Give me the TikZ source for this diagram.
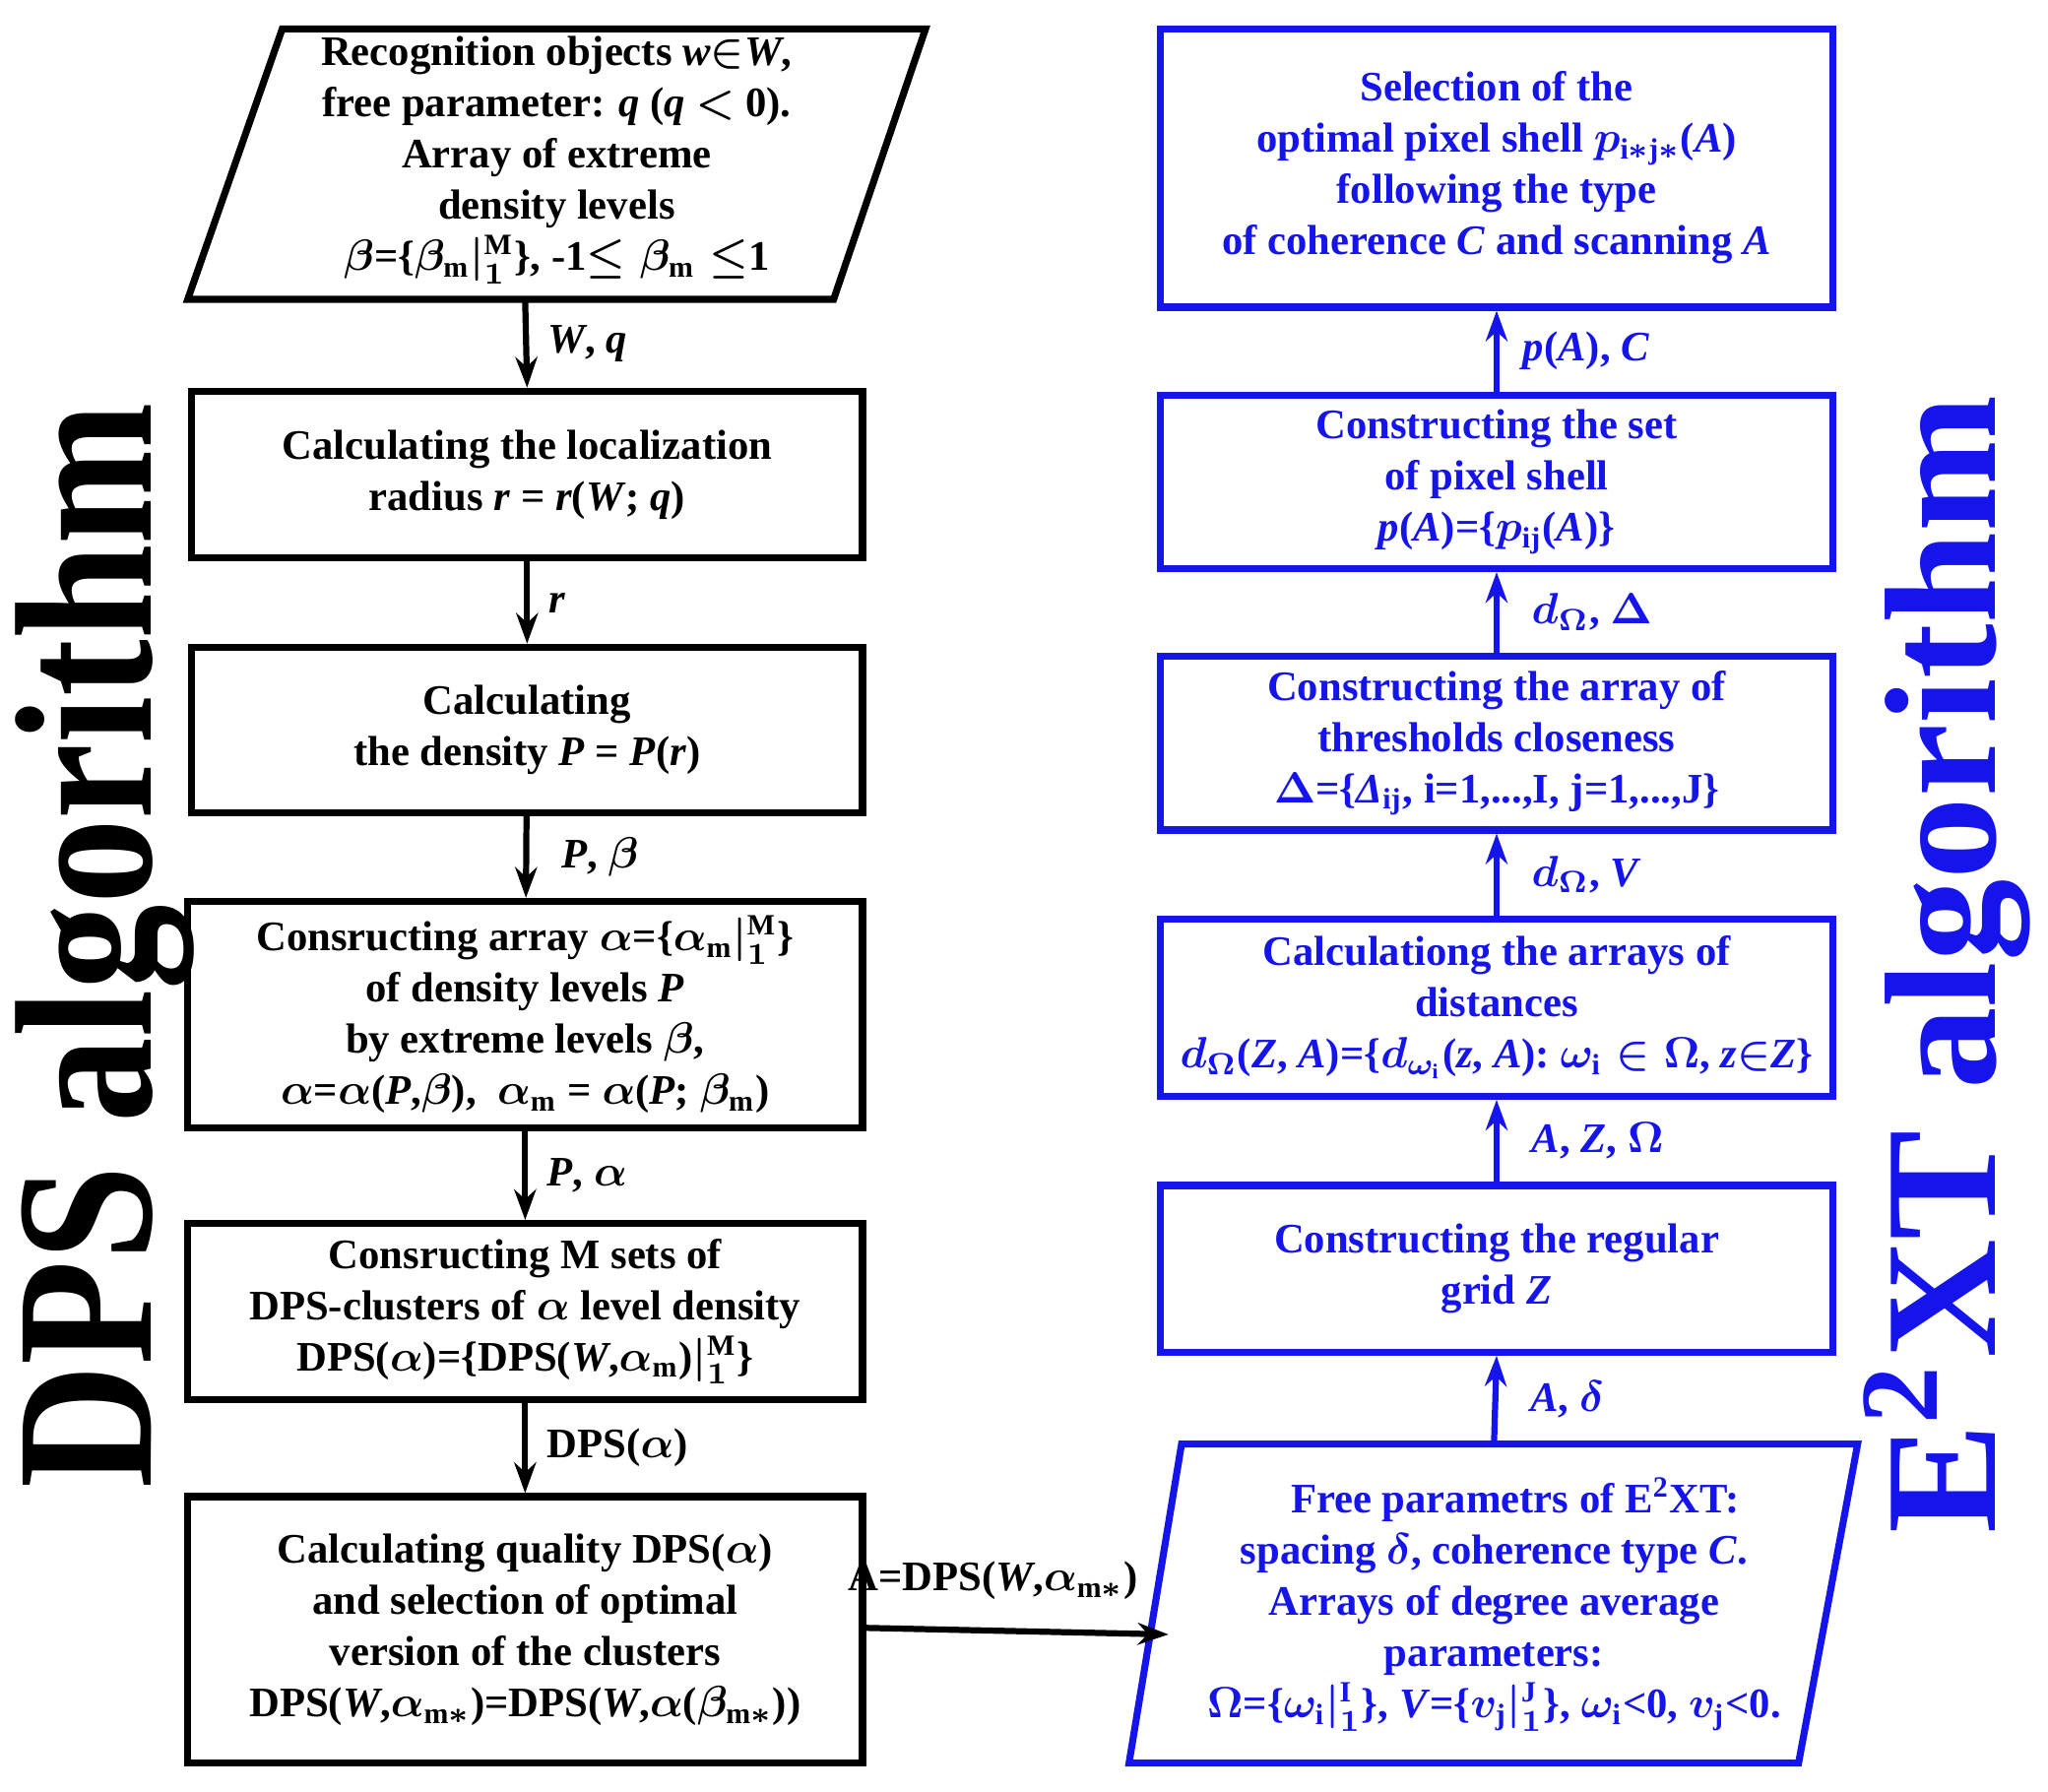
\documentclass[tikz,border=0pt]{standalone}
\usepackage{fontspec}
\setmainfont{Liberation Serif}
\usepackage{graphicx}
\usetikzlibrary{arrows.meta}
\definecolor{bl}{RGB}{20,20,235}
\begin{document}
\boldmath
\begin{tikzpicture}[x=0.3pt,y=-0.3pt,
  box/.style={draw,line width=1.6pt,align=center,font=\bfseries\fontsize{9.6}{11.7}\selectfont},
  lab/.style={font=\bfseries\fontsize{9.6}{11.7}\selectfont,anchor=west},
  arr/.style={-{Stealth[length=7pt,width=5pt]},line width=1.4pt},
  B/.style={bl,text=bl}]
\useasboundingbox (0,0) rectangle (1560,1365);
% left parallelogram
\draw[line width=1.6pt] (215,22)--(705,22)--(635,228)--(143,228)--cycle;
\node[box,draw=none] (inp) at (424,122) {Recognition objects \textit{w}$\in$\textit{W},\\ free parameter: \textit{q} (\textit{q} $<$ 0).\\ Array of extreme\\ density levels\\ $\beta$=\{$\beta_{\mathrm m}|_1^{\mathrm M}$\}, -1$\le\beta_{\mathrm m}\le$1};
\coordinate (inpS) at (400,228);
\node[box,minimum width=511*0.3pt,minimum height=127*0.3pt] (b1) at (401.5,361.5) {Calculating the localization\\ radius \textit{r} = \textit{r}(\textit{W}; \textit{q})};
\node[box,minimum width=511*0.3pt,minimum height=126*0.3pt] (b2) at (401.5,556) {Calculating\\ the density \textit{P} = \textit{P}(\textit{r})};
\node[box,minimum width=514*0.3pt,minimum height=170*0.3pt] (b3) at (400,773) {Consructing array $\alpha$=\{$\alpha_{\mathrm m}|_1^{\mathrm M}$\}\\ of density levels \textit{P}\\ by extreme levels $\beta$,\\ $\alpha$=$\alpha$(\textit{P},$\beta$),\ \ $\alpha_{\mathrm m}$ = $\alpha$(\textit{P}; $\beta_{\mathrm m}$)};
\node[box,minimum width=514*0.3pt,minimum height=134*0.3pt] (b4) at (400,999) {Consructing M sets of\\ DPS-clusters of $\alpha$ level density\\ DPS($\alpha$)=\{DPS(\textit{W},$\alpha_{\mathrm m}$)$|_1^{\mathrm M}$\}};
\node[box,minimum width=514*0.3pt,minimum height=203*0.3pt] (b5) at (400,1241.5) {Calculating quality DPS($\alpha$)\\ and selection of optimal\\ version of the clusters\\ DPS(\textit{W},$\alpha_{\mathrm m*}$)=DPS(\textit{W},$\alpha$($\beta_{\mathrm m*}$))};
\draw[arr] (inpS) -- (b1.north) node[lab,midway,right=1pt] {\textit{W}, \textit{q}};
\draw[arr] (b1) -- (b2) node[lab,midway,right=1pt] {\textit{r}};
\draw[arr] (b2) -- (b3) node[lab,midway,right=4pt] {\textit{P}, $\beta$};
\draw[arr] (b3) -- (b4) node[lab,midway,right=1pt] {\textit{P}, $\alpha$};
\draw[arr] (b4) -- (b5) node[lab,midway,right=1pt] {DPS($\alpha$)};
% right
\draw[B,line width=1.6pt] (900,1100)--(1415,1100)--(1370,1343)--(860,1343)--cycle;
\node[box,B,draw=none] (par) at (1138,1222) {\ \ \ \ Free parametrs of E\textsuperscript{2}XT:\\ spacing $\delta$, coherence type \textit{C}.\\ Arrays of degree average\\ parameters:\\ $\Omega$=\{$\omega_{\mathrm i}|_1^{\mathrm I}$\}, \textit{V}=\{$v_{\mathrm j}|_1^{\mathrm J}$\}, $\omega_{\mathrm i}$<0, $v_{\mathrm j}$<0.};
\coordinate (parN) at (1138,1100);
\coordinate (parW) at (890,1245);
\node[box,B,minimum width=512*0.3pt,minimum height=127*0.3pt] (r1) at (1140,966.5) {Constructing the regular\\ grid \textit{Z}};
\node[box,B,minimum width=512*0.3pt,minimum height=135*0.3pt] (r2) at (1140,767.5) {Calculationg the arrays of\\ distances\\ $d_\Omega$(\textit{Z}, \textit{A})=\{$d_{\omega_{\mathrm i}}$(\textit{z}, \textit{A}): $\omega_{\mathrm i}\in\Omega$, \textit{z}$\in$\textit{Z}\}};
\node[box,B,minimum width=512*0.3pt,minimum height=132*0.3pt] (r3) at (1140,566) {Constructing the array of\\ thresholds closeness\\ $\Delta$=\{\textit{Δ}$_{\mathrm{ij}}$, i=1,...,I, j=1,...,J\}};
\node[box,B,minimum width=512*0.3pt,minimum height=130*0.3pt] (r4) at (1140,367) {Constructing the set\\ of pixel shell\\ \textit{p}(\textit{A})=\{$p_{\mathrm{ij}}$(\textit{A})\}};
\node[box,B,minimum width=512*0.3pt,minimum height=212*0.3pt] (r5) at (1140,128) {Selection of the\\ optimal pixel shell $p_{\mathrm{i*j*}}$(\textit{A})\\ following the type\\ of coherence \textit{C} and scanning \textit{A}};
\draw[arr,B] (parN) -- (r1.south) node[lab,midway,right=4pt] {\textit{A}, $\delta$};
\draw[arr,B] (r1) -- (r2) node[lab,midway,right=4pt] {\textit{A}, \textit{Z}, $\Omega$};
\draw[arr,B] (r2) -- (r3) node[lab,midway,right=4pt] {$d_\Omega$, \textit{V}};
\draw[arr,B] (r3) -- (r4) node[lab,midway,right=4pt] {$d_\Omega$, $\Delta$};
\draw[arr,B] (r4) -- (r5) node[lab,midway,right=2pt] {\textit{p}(\textit{A}), \textit{C}};
\path (b5.east|-parW) ++(0,-5) coordinate (b5E);
\draw[arr] (b5E) -- (parW) node[lab,pos=0.42,above=3pt,anchor=south] {A=DPS(\textit{W},$\alpha_{\mathrm m*}$)};
% titles
\node[rotate=90] (t1) at (80,720) {\resizebox{248pt}{31pt}{\bfseries DPS algorithm}};
\node[rotate=90,text=bl] (t2) at (1483,735) {\resizebox{260pt}{30pt}{\bfseries E\textsuperscript{2}XT algorithm}};
\end{tikzpicture}
\end{document}
